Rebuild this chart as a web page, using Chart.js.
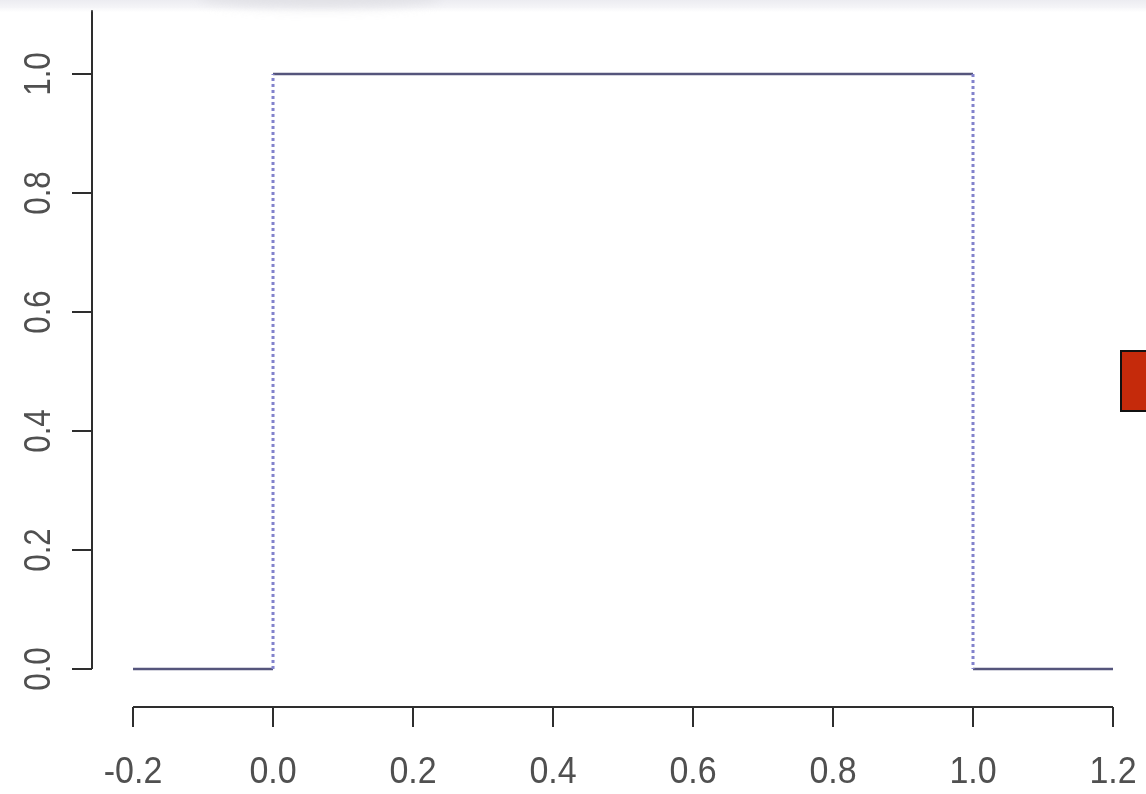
<!DOCTYPE html>
<html>
<head>
<meta charset="utf-8">
<script src="https://cdn.jsdelivr.net/npm/chart.js@4/dist/chart.umd.min.js"></script>
<style>
  html, body { margin: 0; padding: 0; background: #ffffff; overflow: hidden; }
  #wrap { position: relative; width: 1146px; height: 794px; }
  #plot { position: absolute; left: 0; top: 0; }
  #topband {
    position: absolute; left: 0; top: 0; width: 1146px; height: 12px;
    background: linear-gradient(to bottom, #ececf1 0%, #f4f4f7 55%, rgba(255,255,255,0) 100%);
  }
  #smudge {
    position: absolute; left: 200px; top: -14px; width: 240px; height: 22px;
    border-radius: 50%; background: #dcdce1; filter: blur(6px); opacity: 0.7;
  }
  #marker {
    position: absolute; left: 1120px; top: 350px; width: 40px; height: 58px;
    background: #c52a0b; border: 2px solid #111;
  }
</style>
</head>
<body>
<div id="wrap">
  <canvas id="plot" width="1146" height="794"></canvas>
  <div id="topband"></div>
  <div id="smudge"></div>
  <div id="marker"></div>
</div>
<script>
// Uniform(0, 1) density: tails at zero, plateau at one, dotted jumps at the edges
const xTicks = [-0.2, 0.0, 0.2, 0.4, 0.6, 0.8, 1.0, 1.2];
const yTicks = [0.0, 0.2, 0.4, 0.6, 0.8, 1.0];

const leftTailX  = [-0.2, 0.0];
const leftTailY  = [0, 0];
const plateauX   = [0.0, 1.0];
const plateauY   = [1, 1];
const rightTailX = [1.0, 1.2];
const rightTailY = [0, 0];
const jumpUpX    = [0.0, 0.0];
const jumpUpY    = [0, 1];
const jumpDownX  = [1.0, 1.0];
const jumpDownY  = [1, 0];

const pts = (xs, ys) => xs.map((x, i) => ({ x: x, y: ys[i] }));

const solidColor = '#55557c';
const dotColor = '#8282cc';

function seg(xs, ys, color, dash) {
  return {
    data: pts(xs, ys),
    borderColor: color,
    borderWidth: dash ? 3 : 2.5,
    borderDash: dash || [],
    pointRadius: 0,
    fill: false,
    tension: 0
  };
}

// R-style detached axes, drawn from the chart's own scales
const rAxes = {
  id: 'rAxes',
  afterDraw(chart) {
    const ctx = chart.ctx;
    const xs = chart.scales.x, ys = chart.scales.y;
    const area = chart.chartArea;
    ctx.save();
    ctx.strokeStyle = '#2e2e2e';
    ctx.lineWidth = 2;
    ctx.fillStyle = '#505050';

    // y axis
    const ax = area.left;
    const y0 = ys.getPixelForValue(yTicks[0]);
    ctx.beginPath();
    ctx.moveTo(ax, area.top);
    ctx.lineTo(ax, y0);
    ctx.stroke();
    ctx.font = '33px "Liberation Sans", Arial, sans-serif';
    ctx.textAlign = 'center';
    ctx.textBaseline = 'middle';
    yTicks.forEach(v => {
      const py = ys.getPixelForValue(v);
      ctx.beginPath();
      ctx.moveTo(ax - 20, py);
      ctx.lineTo(ax, py);
      ctx.stroke();
      ctx.save();
      ctx.translate(40, py);
      ctx.rotate(-Math.PI / 2);
      ctx.scale(0.95, 1.12);
      ctx.fillText(v.toFixed(1), 0, 0);
      ctx.restore();
    });

    // x axis
    const ay = area.bottom;
    const xa = xs.getPixelForValue(xTicks[0]);
    const xb = xs.getPixelForValue(xTicks[xTicks.length - 1]);
    ctx.beginPath();
    ctx.moveTo(xa, ay);
    ctx.lineTo(xb, ay);
    ctx.stroke();
    xTicks.forEach(v => {
      const px = xs.getPixelForValue(v);
      ctx.beginPath();
      ctx.moveTo(px, ay);
      ctx.lineTo(px, ay + 20);
      ctx.stroke();
      ctx.save();
      ctx.translate(px, 773);
      ctx.scale(1.03, 1.1);
      ctx.fillText(v.toFixed(1), 0, 0);
      ctx.restore();
    });
    ctx.restore();
  }
};

new Chart(document.getElementById('plot'), {
  type: 'line',
  data: {
    datasets: [
      seg(jumpUpX, jumpUpY, dotColor, [3, 3]),
      seg(jumpDownX, jumpDownY, dotColor, [3, 3]),
      seg(leftTailX, leftTailY, solidColor),
      seg(plateauX, plateauY, solidColor),
      seg(rightTailX, rightTailY, solidColor)
    ]
  },
  options: {
    responsive: false,
    devicePixelRatio: 1,
    animation: false,
    layout: { padding: { left: 92, right: 12, top: 10, bottom: 87 } },
    plugins: { legend: { display: false }, tooltip: { enabled: false } },
    scales: {
      x: { type: 'linear', display: false, min: -0.2586, max: 1.23 },
      y: { type: 'linear', display: false, min: -0.0639, max: 1.1076 }
    }
  },
  plugins: [rAxes]
});
</script>
</body>
</html>
